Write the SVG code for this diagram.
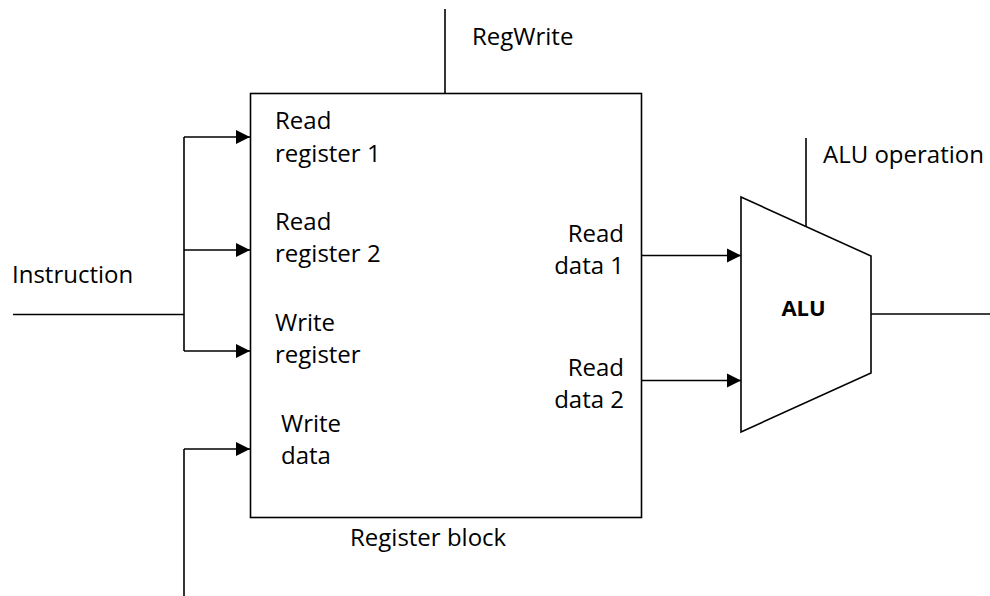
<svg xmlns="http://www.w3.org/2000/svg" width="990" height="596" viewBox="0 0 990 596">
<defs>
<marker id="arr" markerUnits="userSpaceOnUse" markerWidth="16" markerHeight="16" viewBox="0 0 16 16" refX="15" refY="8" orient="auto">
<path d="M1,1 L15,8 L1,15 Z" fill="#000"/>
</marker>
</defs>
<style>
.ln{stroke:#000;stroke-width:1.6;fill:none}
.sh{stroke:#000;stroke-width:1.6;fill:#fff}
.t{font-family:"Open Sans","Liberation Sans",sans-serif;font-size:24px;fill:#000}
.r{text-anchor:end}
.b{font-weight:bold;text-anchor:middle}
</style>
<rect width="990" height="596" fill="#fff"/>
<g id="connectors">
<line class="ln" x1="445" y1="9" x2="445" y2="93"/>
<line class="ln" x1="13" y1="314.5" x2="184" y2="314.5"/>
<line class="ln" x1="184" y1="137" x2="184" y2="351"/>
<line class="ln" x1="184" y1="137" x2="250" y2="137" marker-end="url(#arr)"/>
<line class="ln" x1="184" y1="250" x2="250" y2="250" marker-end="url(#arr)"/>
<line class="ln" x1="184" y1="351" x2="250" y2="351" marker-end="url(#arr)"/>
<line class="ln" x1="184" y1="596" x2="184" y2="449"/>
<line class="ln" x1="184" y1="449" x2="250" y2="449" marker-end="url(#arr)"/>
<line class="ln" x1="641" y1="255.5" x2="741" y2="255.5" marker-end="url(#arr)"/>
<line class="ln" x1="641" y1="380.5" x2="741" y2="380.5" marker-end="url(#arr)"/>
<line class="ln" x1="806" y1="138" x2="806" y2="226"/>
<line class="ln" x1="871" y1="314" x2="990" y2="314"/>
</g>
<g id="register-block">
<rect class="sh" x="250.5" y="93.5" width="391" height="424"/>
<text class="t" x="275" y="129">Read</text>
<text class="t" x="275" y="162">register 1</text>
<text class="t" x="275" y="230">Read</text>
<text class="t" x="275" y="262">register 2</text>
<text class="t" x="275" y="331">Write</text>
<text class="t" x="275" y="363">register</text>
<text class="t" x="281" y="432">Write</text>
<text class="t" x="281" y="464">data</text>
<text class="t r" x="624" y="242">Read</text>
<text class="t r" x="624" y="274">data 1</text>
<text class="t r" x="624" y="376">Read</text>
<text class="t r" x="624" y="408">data 2</text>
<text class="t" x="350" y="546">Register block</text>
</g>
<g id="alu">
<path class="sh" d="M741,197 L871,256 L871,373 L741,432 Z"/>
<text class="t b" x="803.5" y="316" style="font-size:22px">ALU</text>
</g>
<text class="t" x="472" y="45">RegWrite</text>
<text class="t" x="823" y="163">ALU operation</text>
<text class="t" x="12" y="283">Instruction</text>
</svg>
